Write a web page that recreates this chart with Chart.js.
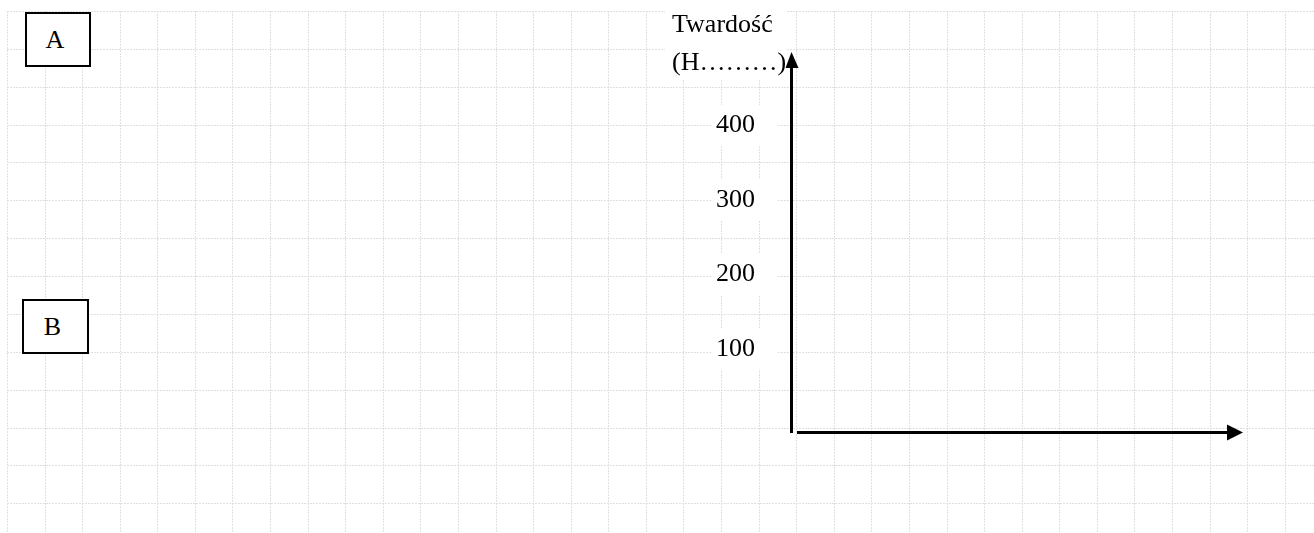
<!DOCTYPE html>
<html>
<head>
<meta charset="utf-8">
<script src="https://cdn.jsdelivr.net/npm/chart.js@4.4.1/dist/chart.umd.min.js"></script>
<style>
html,body{margin:0;padding:0;background:#fff;}
#wrap{position:relative;width:1314px;height:533px;overflow:hidden;}
#c{position:absolute;left:0;top:0;}
.box{position:absolute;border:2px solid #000;background:#fff;font-family:"Liberation Serif","Times New Roman",serif;font-size:26px;color:#000;display:flex;align-items:center;justify-content:center;box-sizing:border-box;padding-right:6px;}
</style>
</head>
<body>
<div id="wrap">
<canvas id="c" width="1314" height="533"></canvas>
<div class="box" id="boxA" style="left:25px;top:12px;width:66px;height:55px;"></div>
<div class="box" id="boxB" style="left:22px;top:299px;width:67px;height:55px;"></div>
</div>
<script>
// ---- data ----
const categories = [];
const seriesValues = [];
const yTicks = [100, 200, 300, 400];
const yMin = -12;
const yMax = 499;
const titleLines = ['Twardość', '(H………)'];
const boxLabels = ['A', 'B'];

document.getElementById('boxA').textContent = boxLabels[0];
document.getElementById('boxB').textContent = boxLabels[1];

const FONT = '"Liberation Serif", "Times New Roman", serif';

// background paper grid
const paperGrid = {
  id: 'paperGrid',
  beforeDraw(chart) {
    const ctx = chart.ctx, W = chart.width, H = chart.height;
    ctx.save();
    ctx.fillStyle = '#fff';
    ctx.fillRect(0, 0, W, H);
    ctx.strokeStyle = '#e0e0e0';
    ctx.lineWidth = 1;
    ctx.setLineDash([2, 1]);
    const x0 = 7, y0 = 11, dx = 37.58, dy = 37.87;
    for (let k = 0; x0 + k * dx < W; k++) {
      const x = Math.round(x0 + k * dx) + 0.5;
      ctx.beginPath(); ctx.moveTo(x, y0); ctx.lineTo(x, H); ctx.stroke();
    }
    for (let k = 0; y0 + k * dy < H; k++) {
      const y = Math.round(y0 + k * dy) + 0.5;
      ctx.beginPath(); ctx.moveTo(x0, y); ctx.lineTo(W, y); ctx.stroke();
    }
    // white backing behind the axis title block
    const a = chart.chartArea;
    ctx.fillStyle = '#fff';
    ctx.fillRect(a.left - 126, 0, 122, a.top + 28);
    ctx.restore();
  }
};

// arrowed axes and axis title
const arrowAxes = {
  id: 'arrowAxes',
  afterDraw(chart) {
    const ctx = chart.ctx, a = chart.chartArea;
    ctx.save();
    ctx.setLineDash([]);
    ctx.strokeStyle = '#000';
    ctx.fillStyle = '#000';
    ctx.lineWidth = 3;
    ctx.lineCap = 'butt';
    const xl = a.left + 0.5;
    // vertical axis
    ctx.beginPath(); ctx.moveTo(xl, a.bottom + 1); ctx.lineTo(xl, a.top + 12); ctx.stroke();
    ctx.beginPath();
    ctx.moveTo(xl, a.top);
    ctx.lineTo(xl - 6, a.top + 16);
    ctx.lineTo(xl + 7, a.top + 16);
    ctx.closePath(); ctx.fill();
    // horizontal axis
    const yb = a.bottom + 0.5;
    ctx.beginPath(); ctx.moveTo(a.left + 6, yb); ctx.lineTo(a.right - 12, yb); ctx.stroke();
    ctx.beginPath();
    ctx.moveTo(a.right, yb);
    ctx.lineTo(a.right - 16, yb - 8);
    ctx.lineTo(a.right - 16, yb + 8);
    ctx.closePath(); ctx.fill();
    // axis title
    ctx.font = '26px ' + FONT;
    ctx.textAlign = 'left';
    ctx.textBaseline = 'middle';
    ctx.fillText(titleLines[0], a.left - 119, a.top - 27);
    ctx.fillText(titleLines[1], a.left - 119, a.top + 11);
    ctx.restore();
  }
};

new Chart(document.getElementById('c'), {
  type: 'line',
  data: {
    labels: categories,
    datasets: [{ data: seriesValues, borderColor: '#000', pointRadius: 0 }]
  },
  options: {
    responsive: false,
    animation: false,
    devicePixelRatio: 1,
    layout: { padding: { left: 691, right: 71, top: 52, bottom: 101 } },
    plugins: { legend: { display: false }, tooltip: { enabled: false }, title: { display: false } },
    scales: {
      x: { display: false },
      y: {
        min: yMin,
        max: yMax,
        afterBuildTicks: s => { s.ticks = yTicks.map(v => ({ value: v })); },
        afterFit: s => { s.width = 100; s.paddingTop = 0; s.paddingBottom = 0; },
        grid: { display: false, drawTicks: false },
        border: { display: false },
        ticks: {
          padding: 36, color: '#000', font: { family: FONT, size: 26 },
          showLabelBackdrop: true, backdropColor: '#fff',
          backdropPadding: { left: 4, right: 22, top: 5, bottom: 5 }
        }
      }
    }
  },
  plugins: [paperGrid, arrowAxes]
});
</script>
</body>
</html>
